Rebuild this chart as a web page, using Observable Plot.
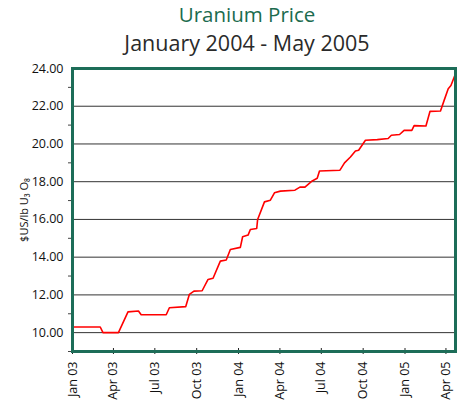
<!DOCTYPE html>
<html>
<head>
<meta charset="utf-8">
<script src="https://cdn.jsdelivr.net/npm/d3@7"></script>
<script src="https://cdn.jsdelivr.net/npm/@observablehq/plot@0.6"></script>
<style>
  body { margin: 0; background: #fff; font-family: "Open Sans", sans-serif; }
  #wrap { width: 464px; height: 404px; position: relative; overflow: hidden; }
  .titles { width: 434px; padding-left: 30px; text-align: center; height: 56px; }
  .t1 { color: #1b6b4e; font-size: 20.5px; line-height: 29px; height: 29px; }
  .t2 { color: #2a2a2a; font-size: 21.5px; line-height: 27px; height: 27px; }
</style>
</head>
<body>
<div id="wrap">
  <div class="titles">
    <div class="t1">Uranium Price</div>
    <div class="t2">January 2004 - May 2005</div>
  </div>
  <div id="chart"></div>
</div>
<script>
const dates = [
  "2003-01-01","2003-03-03","2003-03-09","2003-04-12","2003-05-03","2003-05-26","2003-06-01",
  "2003-07-26","2003-08-02","2003-09-07","2003-09-15","2003-09-25","2003-10-13","2003-10-26",
  "2003-11-06","2003-11-22","2003-12-05","2003-12-14","2004-01-05","2004-01-10","2004-01-22",
  "2004-01-27","2004-02-10","2004-02-12","2004-02-27","2004-03-11","2004-03-20","2004-04-02",
  "2004-05-04","2004-05-15","2004-05-26","2004-06-11","2004-06-22","2004-06-27","2004-08-11",
  "2004-08-21","2004-09-03","2004-09-14","2004-09-21","2004-10-06","2004-11-01","2004-11-25",
  "2004-12-02","2004-12-20","2004-12-30","2005-01-16","2005-01-21","2005-02-16","2005-02-25",
  "2005-03-20","2005-03-28","2005-04-06","2005-04-12","2005-04-22"
];
const prices = [
  10.30,10.30,10.00,10.00,11.10,11.15,10.95,
  10.95,11.32,11.38,12.03,12.20,12.22,12.82,
  12.88,13.79,13.85,14.41,14.52,15.08,15.17,
  15.47,15.52,16.00,16.93,17.02,17.41,17.50,
  17.55,17.71,17.71,18.04,18.18,18.57,18.61,
  19.00,19.31,19.63,19.67,20.20,20.23,20.29,
  20.46,20.50,20.72,20.72,20.97,20.95,21.73,
  21.75,22.31,22.93,23.10,23.72
];
const yLabelTicks = [10, 12, 14, 16, 18, 20, 22, 24];
const yMinorTicks = [9, 11, 13, 15, 17, 19, 21, 23];
const xTickDates = ["2003-01-01","2003-04-01","2003-07-01","2003-10-01","2004-01-01",
  "2004-04-01","2004-07-01","2004-10-01","2005-01-01","2005-04-01"];
const yTitle = "$US/lb U₃ O₈";

const data = dates.map((d, i) => ({date: new Date(d), price: prices[i]}));
const xTicks = xTickDates.map(d => new Date(d));
const fmt = d3.utcFormat("%b %y");

const chart = Plot.plot({
  width: 464,
  height: 348,
  marginLeft: 72,
  marginRight: 9,
  marginTop: 12,
  marginBottom: 53,
  style: {fontFamily: "Open Sans, sans-serif", background: "#fff", color: "#111"},
  x: {type: "utc", domain: [new Date("2003-01-01"), new Date("2005-04-22")]},
  y: {domain: [9, 24]},
  marks: [
    Plot.gridY(yLabelTicks.slice(0, -1), {stroke: "#333", strokeOpacity: 1, strokeWidth: 1}),
    Plot.axisY(yLabelTicks, {tickSize: 0, tickPadding: 9, tickFormat: d => d.toFixed(2), fontSize: 12.5,
      label: yTitle, labelAnchor: "center", labelArrow: "none", labelOffset: 52}),
    Plot.axisY(yMinorTicks, {tickSize: 4, fill: "none", label: null, stroke: "#444"}),
    Plot.axisX(xTicks, {tickSize: 0, tickPadding: 10, tickRotate: -90, tickFormat: fmt, fontSize: 12.5, label: null}),
    Plot.axisX(xTicks, {tickSize: 6, dy: -3, fill: "none", label: null, stroke: "#222"}),
    Plot.line(data, {x: "date", y: "price", stroke: "#ff0000", strokeWidth: 1.6}),
    Plot.frame({stroke: "#1d6d58", strokeWidth: 3})
  ]
});
chart.querySelectorAll("[aria-label='y-axis label'] text").forEach(t => t.setAttribute("font-size", 11));
document.getElementById("chart").appendChild(chart);
</script>
</body>
</html>
